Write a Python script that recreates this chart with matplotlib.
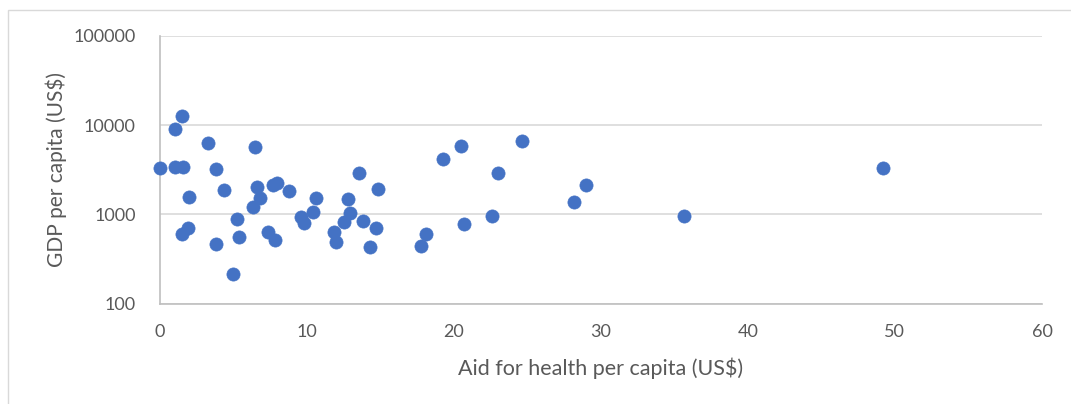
import matplotlib.pyplot as plt
from matplotlib.patches import Rectangle
from matplotlib.ticker import FixedLocator, FixedFormatter

# Aid for health per capita (US$) vs GDP per capita (US$)
aid_per_capita = [0.03, 1.05, 1.51, 1.05, 1.62, 2.03, 1.51, 1.96, 3.32, 3.86,
                  4.37, 3.84, 5.02, 5.29, 5.41, 6.50, 6.61, 6.38, 6.84, 7.74,
                  8.01, 8.81, 7.40, 7.86, 9.65, 9.80, 10.46, 10.63, 11.87, 11.99,
                  12.55, 12.96, 12.84, 13.57, 13.86, 14.32, 14.71, 14.84, 17.79, 18.11,
                  19.27, 20.49, 20.67, 22.60, 23.01, 24.64, 28.15, 29.03, 35.63, 49.17]
gdp_per_capita = [3270, 8950, 12600, 3410, 3360, 1575, 601, 708, 6240, 3215,
                  1871, 461, 214, 893, 561, 5710, 2037, 1216, 1534, 2130,
                  2258, 1837, 638, 515, 933, 800, 1069, 1511, 629, 486,
                  813, 1026, 1472, 2923, 841, 430, 708, 1920, 445, 597,
                  4195, 5820, 773, 957, 2923, 6670, 1362, 2145, 965, 3325]

x_ticks = [0, 10, 20, 30, 40, 50, 60]
y_ticks = [100, 1000, 10000, 100000]
y_tick_labels = ["100", "1000", "10000", "100000"]

plt.rcParams['font.family'] = ['Lato', 'DejaVu Sans']
text_color = '#595959'

fig = plt.figure(figsize=(10.71, 4.04), dpi=100)
ax = fig.add_axes([159.5 / 1071, 1 - 303.6 / 404, (1042 - 159.5) / 1071, (303.6 - 35.7) / 404])

ax.scatter(aid_per_capita, gdp_per_capita, s=90, color='#4472C4',
           edgecolors='#4472C4', linewidths=0.5, zorder=3, clip_on=False)

ax.set_yscale('log')
ax.set_xlim(0, 60)
ax.set_ylim(100, 100000)
ax.xaxis.set_major_locator(FixedLocator(x_ticks))
ax.yaxis.set_major_locator(FixedLocator(y_ticks))
ax.yaxis.set_major_formatter(FixedFormatter(y_tick_labels))
ax.yaxis.set_minor_locator(FixedLocator([]))
ax.tick_params(length=0, labelsize=13, labelcolor=text_color)
ax.tick_params(axis='x', pad=15)
ax.tick_params(axis='y', pad=17)

ax.grid(axis='y', color='#D9D9D9', linewidth=1.2)
ax.set_axisbelow(True)
for side in ['top', 'right']:
    ax.spines[side].set_visible(False)
for side in ['left', 'bottom']:
    ax.spines[side].set_color('#BFBFBF')
    ax.spines[side].set_linewidth(1.2)

ax.set_xlabel("Aid for health per capita (US$)", fontsize=15.5, color=text_color, labelpad=12)
ax.set_ylabel("GDP per capita (US$)", fontsize=15, color=text_color, labelpad=5)

# chart area border like the original
fig.patches.append(Rectangle((8 / 1071, -0.1), 1.2, 1.1 - 10 / 404, transform=fig.transFigure,
                             fill=False, edgecolor='#D9D9D9', linewidth=1))

fig.savefig("out.png", dpi=100)
